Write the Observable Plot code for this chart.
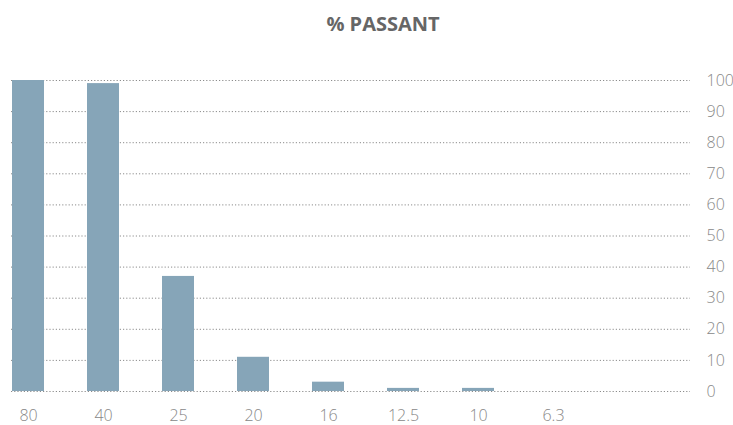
<!DOCTYPE html>
<html>
<head>
<meta charset="utf-8">
<script src="https://cdn.jsdelivr.net/npm/d3@7"></script>
<script src="https://cdn.jsdelivr.net/npm/@observablehq/plot@0.6"></script>
<style>
  body { margin: 0; background: #fff; }
  #title { width: 700px; padding-left: 33px; height: 48px; line-height: 48px; text-align: center;
    font-family: "Open Sans", sans-serif; font-weight: 700; font-size: 20px; color: #666; }
</style>
</head>
<body>
<div id="title">% PASSANT</div>
<div id="chart"></div>
<script>
const sieves = ["80", "40", "25", "20", "16", "12.5", "10", "6.3"];
const passing = [100, 99, 37, 11, 3, 1, 1, 0];
const yTicks = [0, 10, 20, 30, 40, 50, 60, 70, 80, 90, 100];

const data = sieves.map((s, i) => ({sieve: s, value: passing[i]}));

const chart = Plot.plot({
  width: 733,
  height: 377,
  marginLeft: 11,
  marginRight: 43,
  marginTop: 32,
  marginBottom: 34,
  style: {fontFamily: "Open Sans, sans-serif", fontSize: "16px", color: "#888", background: "#fff", overflow: "visible"},
  x: {domain: sieves, paddingInner: 0.574, paddingOuter: 0.78, align: 0.01, label: null},
  y: {domain: [0, 100], label: null},
  marks: [
    Plot.ruleY(yTicks, {stroke: "#8c8c8c", strokeWidth: 1, strokeDasharray: "1.2,2"}),
    Plot.barY(data, {x: "sieve", y: "value", fill: "#86a5b8"}),
    Plot.axisX({tickSize: 0, tickPadding: 18, fontWeight: 300, fill: "#888"}),
    Plot.axisY({anchor: "right", ticks: yTicks, tickSize: 0, tickPadding: 16, fontWeight: 300, fill: "#888"})
  ]
});
document.getElementById("chart").appendChild(chart);
</script>
</body>
</html>
